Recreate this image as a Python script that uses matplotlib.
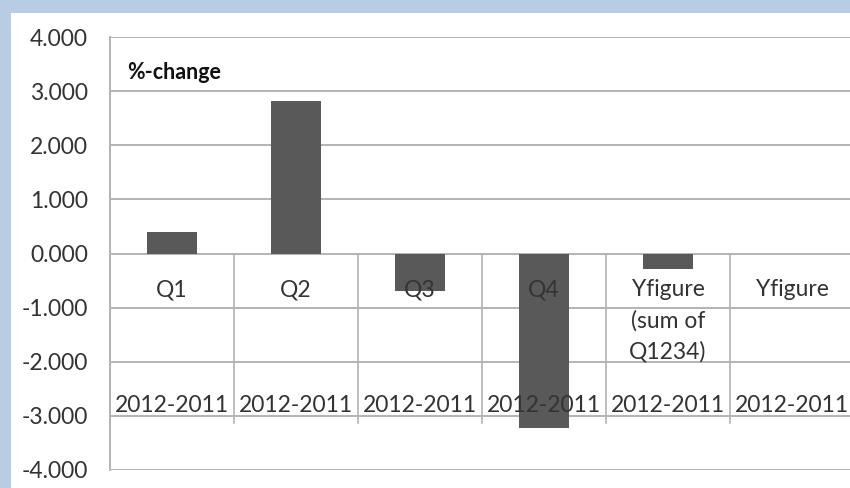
import matplotlib
matplotlib.use("Agg")
import matplotlib.pyplot as plt

categories = ["Q1", "Q2", "Q3", "Q4", "Yfigure\n(sum of\nQ1234)", "Yfigure"]
sublabels = ["2012-2011"] * 6
values = [0.40, 2.81, -0.70, -3.23, -0.28, 0.0]
yticks = [-4, -3, -2, -1, 0, 1, 2, 3, 4]

W, H = 850, 488
fig = plt.figure(figsize=(W / 100, H / 100), dpi=100)
fig.patch.set_facecolor("#b8cce4")
bg = fig.add_axes([11 / W, 0, 1 - 11 / W, (H - 13) / H], zorder=-5)
bg.set_axis_off()
bg.add_patch(plt.Rectangle((0, 0), 1, 1, transform=bg.transAxes,
                           facecolor="white", edgecolor="none"))

font = "Lato"
fs = 16.5
tc = "#333333"
ax = fig.add_axes([110 / W, (H - 470) / H, 1 - 110 / W, (470 - 37) / H],
                  zorder=1)
ax.set_facecolor("none")
x = list(range(len(categories)))
ax.bar(x, values, width=0.4, color="#595959", zorder=2)
ax.set_xlim(-0.5, 5.5 - 4 / 124)
ax.set_ylim(-4, 4)
ax.set_yticks(yticks)
ax.set_yticklabels([f"{v:.3f}" for v in yticks], fontfamily=font,
                   fontsize=fs, color=tc)
ax.tick_params(axis="y", length=0, pad=16)
ax.tick_params(axis="x", length=0, labelbottom=False)
for y in yticks:
    ax.axhline(y, color="#b3b3b3", lw=1.4, zorder=1)
for s in ["top", "right", "bottom"]:
    ax.spines[s].set_visible(False)
ax.spines["left"].set_color("#b3b3b3")
ax.spines["left"].set_linewidth(1.4)

# category separators (multi-level axis)
for b in [i - 0.5 for i in range(len(categories) + 1)]:
    ax.plot([b, b], [0, -3.13], color="#b3b3b3", lw=1.2, zorder=1,
            clip_on=False)

for i, (c, s) in enumerate(zip(categories, sublabels)):
    ax.text(i, -0.48, c, ha="center", va="top", fontfamily=font,
            fontsize=fs, color=tc, linespacing=1.55, zorder=3)
    ax.text(i, -2.81, s, ha="center", va="center", fontfamily=font,
            fontsize=fs, color=tc, zorder=3)

ax.text(-0.36, 3.34, "%-change", ha="left", va="center", fontfamily=font,
        fontsize=15.5, fontweight="bold", color="#111111")

fig.savefig("out.png", dpi=100)
